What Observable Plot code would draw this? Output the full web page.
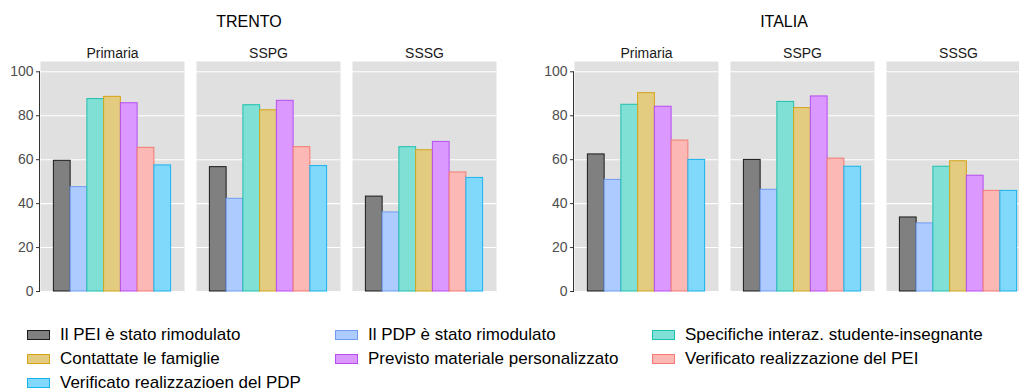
<!DOCTYPE html>
<html><head><meta charset="utf-8">
<script src="https://cdn.jsdelivr.net/npm/d3@7"></script>
<script src="https://cdn.jsdelivr.net/npm/@observablehq/plot@0.6"></script>
<style>
html,body{margin:0;padding:0;background:#fff;}
body{width:1019px;height:390px;overflow:hidden;position:relative;font-family:Arial,"Liberation Sans",sans-serif;}
.title{position:absolute;top:13.5px;font-size:16px;line-height:16px;color:#000;transform:translateX(-50%);white-space:nowrap;}
.chart{position:absolute;top:0;width:498px;height:300px;}
.chart svg{max-width:none !important;}
.item{position:absolute;height:24px;display:flex;align-items:center;white-space:nowrap;font-size:17px;line-height:24px;color:#000;}
.key{width:21px;height:8px;border:1px solid;margin-right:10px;flex:none;}
</style>
</head><body>
<div id="root"></div>
<script>
const levels = ["Primaria", "SSPG", "SSSG"];
const series = [
  "Il PEI è stato rimodulato",
  "Il PDP è stato rimodulato",
  "Specifiche interaz. studente-insegnante",
  "Contattate le famiglie",
  "Previsto materiale personalizzato",
  "Verificato realizzazione del PEI",
  "Verificato realizzazioen del PDP"
];
const fills   = ["#808080", "#aecbff", "#80e0d6", "#e3cc80", "#db99ff", "#fbb8b5", "#80d8fa"];
const strokes = ["#1a1a1a", "#6f9bf0", "#1fc0ad", "#d4a519", "#b54df0", "#f57a73", "#1ab3ee"];
const yTicks = [0, 20, 40, 60, 80, 100];

const trentoPrimaria = [59.5, 47.5, 87.6, 88.6, 85.7, 65.4, 57.4];
const trentoSSPG     = [56.6, 42.2, 84.8, 82.5, 86.8, 65.7, 57.1];
const trentoSSSG     = [43.2, 36.0, 65.7, 64.3, 68.1, 54.2, 51.7];
const italiaPrimaria = [62.4, 50.8, 85.0, 90.3, 84.1, 68.7, 59.9];
const italiaSSPG     = [59.9, 46.3, 86.3, 83.5, 88.8, 60.5, 56.8];
const italiaSSSG     = [33.7, 31.0, 56.8, 59.3, 52.7, 45.8, 45.8];

// dodged bar slots within each facet (ggplot-like expansion around the 7 bars)
const xDomain = [-0.8, series.length + 0.8];

function toRows(byLevel) {
  const rows = [];
  levels.forEach((lv, i) => series.forEach((s, j) => rows.push({level: lv, series: s, idx: j, value: byLevel[i][j]})));
  return rows;
}

function makeChart(rows) {
  return Plot.plot({
    width: 498, height: 300,
    marginLeft: 39, marginRight: 0, marginTop: 61, marginBottom: 9,
    style: {fontFamily: "Arial, 'Liberation Sans', sans-serif", background: "transparent", overflow: "visible"},
    fx: {domain: levels, paddingInner: 0.0764, paddingOuter: 0, label: null},
    x: {domain: xDomain, axis: null},
    y: {domain: [0, 104.7], label: null},
    marks: [
      Plot.frame({fill: "#e0e0e0", stroke: "none"}),
      Plot.gridY(yTicks, {stroke: "#ffffff", strokeOpacity: 1, strokeWidth: 1.1}),
      ...series.map((s, i) => Plot.rectY(rows.filter(d => d.series === s), {
        fx: "level", x1: "idx", x2: d => d.idx + 1, y1: 0, y2: "value",
        fill: fills[i], stroke: strokes[i], strokeWidth: 1
      })),
      Plot.axisY(yTicks, {tickSize: 4, tickPadding: 3, fontSize: 14, fill: "#4d4d4d", stroke: "#333", label: null}),
      Plot.ruleX([{level: levels[0], x: xDomain[0]}], {fx: "level", x: "x", y1: yTicks[0], y2: yTicks[yTicks.length - 1], stroke: "#333", dx: -1}),
      Plot.axisFx({anchor: "top", tickSize: 0, tickPadding: 4, fontSize: 14, fill: "#1a1a1a", label: null})
    ]
  });
}

const root = document.getElementById("root");
function place(node, left) {
  const d = document.createElement("div");
  d.className = "chart"; d.style.left = left + "px";
  d.appendChild(node); root.appendChild(d);
}
place(makeChart(toRows([trentoPrimaria, trentoSSPG, trentoSSSG])), 0);
place(makeChart(toRows([italiaPrimaria, italiaSSPG, italiaSSSG])), 534);

[["TRENTO", 249], ["ITALIA", 784]].forEach(([t, x]) => {
  const d = document.createElement("div");
  d.className = "title"; d.textContent = t; d.style.left = x + "px";
  root.appendChild(d);
});

const colX = [27, 335, 652];
series.forEach((s, i) => {
  const r = Math.floor(i / 3), c = i % 3;
  const it = document.createElement("div");
  it.className = "item";
  it.style.left = colX[c] + "px";
  it.style.top = (322.5 + r * 24) + "px";
  const k = document.createElement("span");
  k.className = "key"; k.style.background = fills[i]; k.style.borderColor = strokes[i];
  const t = document.createElement("span"); t.textContent = s;
  it.appendChild(k); it.appendChild(t);
  root.appendChild(it);
});
</script>
</body></html>
